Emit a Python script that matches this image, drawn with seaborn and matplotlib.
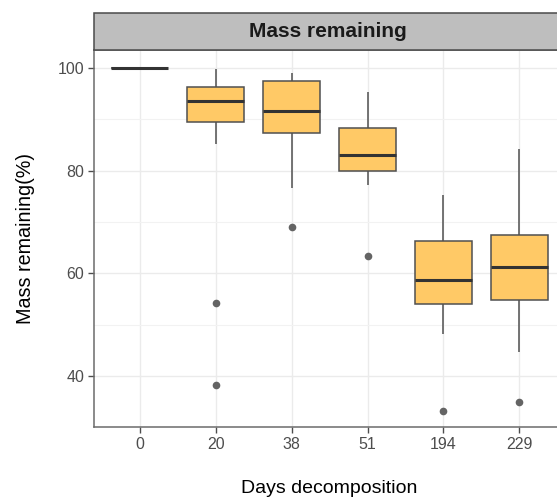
import numpy as np
import pandas as pd
import seaborn as sns
import matplotlib.pyplot as plt
from matplotlib.patches import Rectangle

# Days of decomposition (discrete groups)
days = ["0", "20", "38", "51", "194", "229"]

# Five-number summaries per day: lower whisker, Q1, median, Q3, upper whisker (% mass remaining)
whisker_low = [100.0, 85.2, 76.6, 77.2, 48.1, 44.7]
q1 = [100.0, 89.5, 87.4, 79.9, 54.1, 54.8]
median = [100.0, 93.6, 91.6, 83.1, 58.6, 61.2]
q3 = [100.0, 96.2, 97.5, 88.4, 66.2, 67.4]
whisker_high = [100.0, 99.8, 99.1, 95.4, 75.2, 84.3]

# Outlying observations
outlier_days = ["20", "20", "38", "51", "194", "229"]
outlier_values = [54.3, 38.2, 69.0, 63.3, 33.2, 35.0]

rows = []
for i, d in enumerate(days):
    for v in (whisker_low[i], q1[i], median[i], q3[i], whisker_high[i]):
        rows.append({"day": d, "mass": v})
df = pd.DataFrame(rows)
out_df = pd.DataFrame({"day": outlier_days, "mass": outlier_values})

sns.set_theme(style="white")
plt.rcParams["font.family"] = ["Liberation Sans", "DejaVu Sans"]

fig = plt.figure(figsize=(5.57, 4.97), dpi=100)
ax = fig.add_axes([0.1688, 0.1408, 0.8456, 0.7586])

edge = "#505050"
sns.boxplot(
    data=df, x="day", y="mass", order=days, whis=(0, 100), width=0.75,
    color="#FFC966", saturation=1, linewidth=1.1, fliersize=0,
    boxprops=dict(edgecolor=edge, facecolor="#FFC966"),
    whiskerprops=dict(color=edge), capprops=dict(color=edge, linewidth=0),
    medianprops=dict(color="#333333", linewidth=2.2), ax=ax,
)
sns.stripplot(
    data=out_df, x="day", y="mass", order=days, jitter=False,
    color="#646464", size=5.5, linewidth=0, ax=ax, zorder=5,
)

ax.set_xlim(-0.6, 5.6)
ax.set_ylim(30.05, 103.5)
ax.set_yticks([40, 60, 80, 100])
ax.set_yticks([50, 70, 90], minor=True)

ax.set_axisbelow(True)
ax.grid(True, which="major", color="#EBEBEB", linewidth=1.0)
ax.grid(True, which="minor", axis="y", color="#F2F2F2", linewidth=0.8)
ax.set_facecolor("white")

for side in ("left", "bottom", "right", "top"):
    ax.spines[side].set_color("#6b6b6b")
    ax.spines[side].set_linewidth(1.1)

ax.tick_params(axis="both", which="major", length=4, width=1, color="#4D4D4D",
               labelcolor="#4D4D4D", labelsize=11.5, direction="out",
               bottom=True, left=True, pad=3)
ax.tick_params(axis="y", which="minor", length=0)

ax.set_xlabel("Days decomposition", fontsize=14, color="black", labelpad=20)
ax.set_ylabel("Mass remaining(%)", fontsize=14.2, color="black", labelpad=16)

# Facet strip header
strip = Rectangle((0.1688, 0.8994), 0.8456, 0.0744, transform=fig.transFigure,
                  facecolor="#BEBEBE", edgecolor="#4a4a4a", linewidth=1.1,
                  clip_on=False)
fig.patches.append(strip)
fig.text(0.5895, 0.8994 + 0.0372, "Mass remaining", ha="center", va="center",
         fontsize=15, fontweight="bold", color="#1A1A1A")

fig.savefig("out.png", dpi=100)
